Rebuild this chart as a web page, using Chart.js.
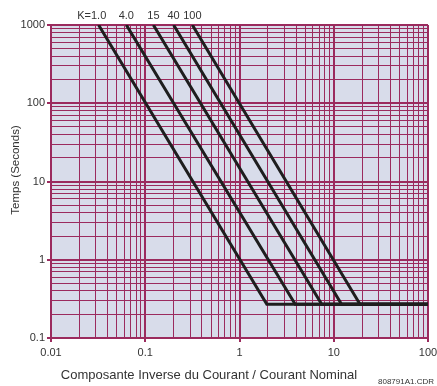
<!DOCTYPE html>
<html lang="fr">
<head>
<meta charset="UTF-8">
<title>Courbes de temps - composante inverse</title>
<script src="https://cdn.jsdelivr.net/npm/chart.js"></script>
<style>
  body { margin: 0; background: #fff; }
  #wrap { width: 437px; height: 386px; }
</style>
</head>
<body>
<div id="wrap"><canvas id="curves" width="437" height="386"></canvas></div>
<script>
  // values
  const kLabels = ['1.0', '4.0', '15', '40', '100'];
  const startCurrent = [0.032, 0.063, 0.122, 0.2, 0.316];   // I2/In where each curve leaves 1000 s
  const kneeCurrent = [1.95, 3.9, 7.45, 12.1, 19];          // I2/In where the curve meets the floor
  const maxTime = 1000;
  const minTime = 0.27;
  const endCurrent = 100;
  const xTickLabels = ['0.01', '0.1', '1', '10', '100'];
  const yTickLabels = ['0.1', '1', '10', '100', '1000'];

  const GRID = '#9b2b5e';
  const BG = '#d8dcea';
  const FONT = "'Liberation Sans', Arial, sans-serif";

  // decades + 2..9 in between
  function logTicks(labels) {
    const out = [];
    labels.forEach((lbl, i) => {
      const base = Number(lbl);
      out.push({ value: base, major: true });
      if (i < labels.length - 1) {
        for (let d = 2; d <= 9; d++) out.push({ value: Number((base * d).toPrecision(3)), major: false });
      }
    });
    return out;
  }

  function axis(labels, isX) {
    const majors = new Set(labels.map(Number));
    return {
      type: 'logarithmic',
      min: Number(labels[0]),
      max: Number(labels[labels.length - 1]),
      afterBuildTicks: (scale) => { scale.ticks = logTicks(labels); },
      afterFit: (scale) => {
        if (isX) { scale.height = 48; scale.paddingLeft = 0; scale.paddingRight = 0; }
        else { scale.width = 51; scale.paddingTop = 0; scale.paddingBottom = 0; }
      },
      ticks: {
        autoSkip: false,
        maxRotation: 0,
        padding: isX ? 4 : 2,
        color: '#333',
        font: { family: FONT, size: 11 },
        callback: (v) => majors.has(v) ? String(v) : ''
      },
      grid: {
        color: GRID,
        lineWidth: (ctx) => ctx.tick && ctx.tick.major ? 2 : 1,
        tickColor: (ctx) => ctx.tick && ctx.tick.major ? GRID : 'rgba(0,0,0,0)',
        tickLength: 4
      },
      border: { color: GRID, width: 2 },
      title: { display: false }
    };
  }

  const datasets = kLabels.map((k, i) => ({
    label: 'K=' + k,
    data: [
      { x: startCurrent[i], y: maxTime },
      { x: kneeCurrent[i], y: minTime },
      { x: endCurrent, y: minTime }
    ],
    showLine: true,
    borderColor: '#1e1e1e',
    borderWidth: 3,
    borderJoinStyle: 'miter',
    pointRadius: 0,
    tension: 0
  }));

  const plotBackground = {
    id: 'plotBackground',
    beforeDraw(chart) {
      const { ctx, chartArea: a } = chart;
      ctx.save();
      ctx.fillStyle = BG;
      ctx.fillRect(a.left, a.top, a.right - a.left, a.bottom - a.top);
      ctx.restore();
    }
  };

  const textLabels = {
    id: 'textLabels',
    afterDraw(chart) {
      const { ctx } = chart;
      const xs = chart.scales.x;
      ctx.save();
      ctx.fillStyle = '#333';
      ctx.textBaseline = 'middle';

      // K labels above each curve start
      ctx.font = '11px ' + FONT;
      kLabels.forEach((k, i) => {
        const px = xs.getPixelForValue(startCurrent[i]);
        ctx.textAlign = 'center';
        ctx.fillText(k, px, 16);
        if (i === 0) {
          ctx.textAlign = 'right';
          ctx.fillText('K=', px - ctx.measureText(k).width / 2, 16);
        }
      });

      // axis titles
      ctx.textAlign = 'center';
      ctx.font = '13px ' + FONT;
      ctx.fillText('Composante Inverse du Courant / Courant Nominal', 209, 375);

      ctx.save();
      ctx.translate(16, 170);
      ctx.rotate(-Math.PI / 2);
      ctx.font = '11.5px ' + FONT;
      ctx.fillText('Temps (Seconds)', 0, 0);
      ctx.restore();

      // drawing reference
      ctx.textAlign = 'left';
      ctx.font = '8px ' + FONT;
      ctx.fillText('808791A1.CDR', 378, 382);
      ctx.restore();
    }
  };

  new Chart(document.getElementById('curves'), {
    type: 'scatter',
    data: { datasets },
    options: {
      responsive: false,
      animation: false,
      layout: { padding: { top: 25, right: 9, left: 0, bottom: 0 } },
      plugins: { legend: { display: false }, tooltip: { enabled: false } },
      scales: {
        x: axis(xTickLabels, true),
        y: axis(yTickLabels, false)
      }
    },
    plugins: [plotBackground, textLabels]
  });
</script>
</body>
</html>
